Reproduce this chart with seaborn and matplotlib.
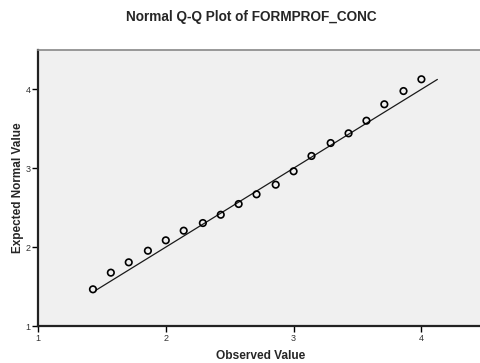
import matplotlib
matplotlib.use("Agg")
import matplotlib.pyplot as plt
import seaborn as sns
import pandas as pd

observed = [1.43, 1.57, 1.71, 1.86, 2.00, 2.14, 2.29, 2.43, 2.57, 2.71,
            2.86, 3.00, 3.14, 3.29, 3.43, 3.57, 3.71, 3.86, 4.00]
expected = [1.465, 1.676, 1.807, 1.954, 2.086, 2.208, 2.305, 2.410, 2.546, 2.669,
            2.791, 2.961, 3.155, 3.319, 3.442, 3.602, 3.810, 3.978, 4.127]
ref_line = [1.45, 4.125]
x_ticks = [1, 2, 3, 4]
y_ticks = [1, 2, 3, 4]

sns.set_style("white")
plt.rcParams['font.family'] = ['Liberation Sans', 'DejaVu Sans']

fig = plt.figure(figsize=(4.8, 3.63), dpi=100)
ax = fig.add_axes([38/480, 37/363, 1 - 38/480, (326 - 49.7)/363])
ax.set_facecolor("#f0f0f0")

pts = pd.DataFrame({"Observed": observed, "Expected": expected})
line = pd.DataFrame({"x": ref_line, "y": ref_line})

sns.lineplot(data=line, x="x", y="y", ax=ax, color="#1a1a1a", linewidth=0.9, zorder=2)
sns.scatterplot(data=pts, x="Observed", y="Expected", ax=ax, marker="o",
                s=22, facecolor="none", edgecolor="black", linewidth=1.2, zorder=3)

ax.set_xlim(1, 1 + 442/127.8)
ax.set_ylim(1, 1 + (326 - 49.7)/78.9)
ax.set_xticks(x_ticks)
ax.set_yticks(y_ticks)
ax.set_xticklabels([str(t) for t in x_ticks])
ax.set_yticklabels([str(t) for t in y_ticks])
ax.tick_params(axis="both", direction="out", length=4, width=1, color="black",
               labelsize=6.5, labelcolor="#333333", pad=1.5, bottom=True, left=True)

for side in ["left", "bottom"]:
    ax.spines[side].set_color("#222222")
    ax.spines[side].set_linewidth(1.6)
ax.spines["top"].set_color("#888888")
ax.spines["top"].set_linewidth(1.2)
ax.spines["right"].set_visible(False)

ax.set_xlabel("Observed Value", fontsize=8.6, fontweight="bold")
ax.set_ylabel("Expected Normal Value", fontsize=8.5, fontweight="bold")
ax.xaxis.set_label_coords((261 - 38) / 442, -(350 - 326) / 276.3)
ax.yaxis.set_label_coords(-(38 - 24) / 442, (326 - 188) / 276.3)
fig.text(251 / 480, 1 - 17/363, "Normal Q-Q Plot of FORMPROF_CONC", ha="center", va="center",
         fontsize=9.8, fontweight="bold")

fig.savefig("out.png", dpi=100, facecolor="white")
